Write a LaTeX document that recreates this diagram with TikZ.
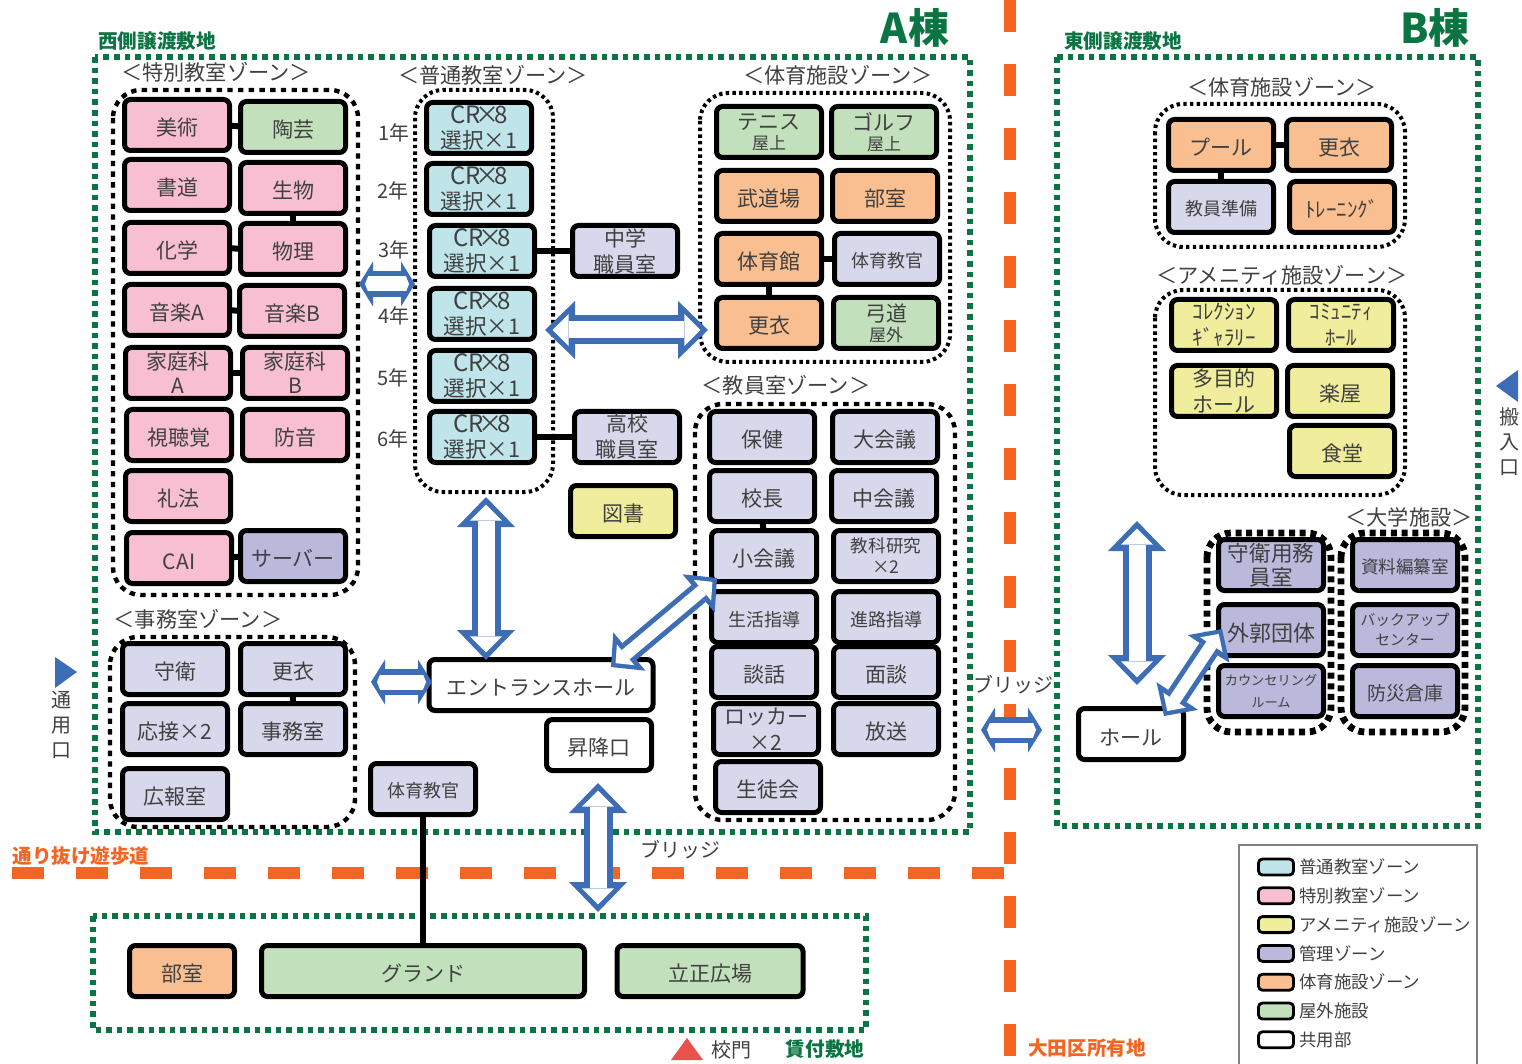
\documentclass[tikz,border=0pt]{standalone}
\usepackage{fontspec}
\setmainfont{Noto Sans CJK JP}
\usepackage{tikz}
\usetikzlibrary{arrows.meta,positioning}
\definecolor{cpink}{HTML}{F8BFD3}
\definecolor{cgreen}{HTML}{C2E0BC}
\definecolor{corange}{HTML}{FABF90}
\definecolor{cblue}{HTML}{BFE5EA}
\definecolor{cyellow}{HTML}{F0EE9C}
\definecolor{cdark}{HTML}{BAB9DC}
\definecolor{clight}{HTML}{D8D8EC}
\definecolor{cink}{HTML}{404040}
\definecolor{cwood}{HTML}{0A7442}
\definecolor{croad}{HTML}{F26522}
\definecolor{cbridge}{HTML}{3D6DB5}
\definecolor{cgate}{HTML}{E8524A}
\newcommand{\crtext}{{\fontsize{12}{13.5}\selectfont CR\kern-.22em×\kern-.22em 8}\\[-.5pt]{\fontsize{10.8}{13.5}\selectfont 選択×1}}
\tikzset{
    room/.style = {draw=black, line width=2.5pt, rounded corners=3pt, inner sep=0pt, minimum width=105 * .5pt, minimum height=25.5pt, align=center, text=cink, font=\fontsize{10.5}{13}\selectfont, execute at begin node={\rule{0pt}{1.08em}}},
    pink/.style = {room, fill=cpink},
    grass/.style = {room, fill=cgreen},
    sport/.style = {room, fill=corange},
    cr/.style = {room, fill=cblue},
    amen/.style = {room, fill=cyellow},
    admin/.style = {room, fill=clight},
    univ/.style = {room, fill=cdark},
    open/.style = {room, fill=white},
    link/.style = {draw=black, line width=3pt},
    zonefine/.style = {draw=black, line width=2pt, dash pattern=on 1.7pt off 1.65pt, rounded corners=14pt},
    zonecoarse/.style = {draw=black, line width=2.2pt, dash pattern=on 2.7pt off 2.65pt, rounded corners=14pt},
    zonethick/.style = {draw=black, line width=3.4pt, dash pattern=on 3pt off 2.35pt, rounded corners=12pt},
    site/.style = {draw=cwood, line width=3pt, dash pattern=on 2.8pt off 2.5pt},
    road/.style = {draw=croad, line width=6pt, dash pattern=on 16pt off 16pt},
    title/.style = {text=cink, inner sep=0pt, font=\fontsize{10.6}{13}\selectfont},
    small/.style = {text=cink, inner sep=0pt, align=center, font=\fontsize{10}{12.5}\selectfont},
    sitename/.style = {text=cwood, inner sep=0pt, font=\fontsize{9.8}{12}\selectfont\bfseries},
    roadname/.style = {text=croad, inner sep=0pt, font=\fontsize{9.8}{12}\selectfont\bfseries},
    block/.style = {text=cwood, inner sep=0pt, font=\fontsize{20.5}{24}\selectfont\bfseries},
    swatch/.style = {draw=black, line width=1.4pt, rounded corners=2pt, minimum width=17.5pt, minimum height=8pt, inner sep=0pt},
    legendtext/.style = {text=cink, inner sep=0pt, font=\fontsize{8.7}{10}\selectfont},
    % double lined arrows
    bigbridge/.style = {line width=8.5pt, draw=white, shorten >=3.8pt, shorten <=3.8pt, {Triangle[length=8pt,width=16pt,line width=0pt]}-{Triangle[length=8pt,width=16pt,line width=0pt]},
        preaction={draw=cbridge, line width=14.5pt, shorten >=0pt, shorten <=0pt, {Triangle[length=15pt,width=29pt,line width=0pt]}-{Triangle[length=15pt,width=29pt,line width=0pt]}}},
    midbridge/.style = {line width=6pt, draw=white, shorten >=3pt, shorten <=3pt, {Triangle[length=6.5pt,width=13.5pt,line width=0pt]}-{Triangle[length=6.5pt,width=13.5pt,line width=0pt]},
        preaction={draw=cbridge, line width=11pt, shorten >=0pt, shorten <=0pt, {Triangle[length=12pt,width=25pt,line width=0pt]}-{Triangle[length=12pt,width=25pt,line width=0pt]}}},
    smallbridge/.style = {line width=7.5pt, draw=white, shorten >=3pt, shorten <=3pt, {Triangle[length=1.5pt,width=7.5pt,line width=0pt]}-{Triangle[length=1.5pt,width=7.5pt,line width=0pt]},
        preaction={draw=cbridge, line width=13pt, shorten >=0pt, shorten <=0pt, {Triangle[length=7pt,width=22.5pt,line width=0pt]}-{Triangle[length=7pt,width=22.5pt,line width=0pt]}}},
}
\begin{document}
\begin{tikzpicture}[x=.5pt, y=-.5pt]
        \useasboundingbox (0,0) rectangle (1522,1064);
        % sites and roads
        \draw[site] (95,57) rectangle (970,832);
        \draw[site] (1057,57) rectangle (1478,826);
        \draw[site] (93,916) rectangle (866,1030);
        \draw[road] (12,873) -- (1005,873);
        \draw[road] (1010,0) -- (1010,1056);
        \node[block] (blockA) at (915,28) {A棟};
        \node[block] (blockB) at (1435,28) {B棟};
        \node[sitename] (westsite) at (157,41) {西側譲渡敷地};
        \node[sitename] (eastsite) at (1123,41) {東側譲渡敷地};
        \node[sitename] (rentsite) at (825,1049) {賃付敷地};
        \node[roadname] (walkway) at (81,856) {通り抜け遊歩道};
        \node[roadname] (otaku) at (1087,1048) {大田区所有地};
        % zones
        \draw[zonecoarse] (113,90) rectangle (358,595);
        \draw[zonefine] (415,90) rectangle (553,492);
        \draw[zonefine] (700,93) rectangle (950,362);
        \draw[zonecoarse] (695,404) rectangle (955,820);
        \draw[zonecoarse] (110,637) rectangle (355,827);
        \draw[zonefine] (1155,104) rectangle (1405,247);
        \draw[zonefine] (1155,290) rectangle (1405,495);
        \draw[zonethick] (1207,533) rectangle (1331,732);
        \draw[zonethick] (1341,533) rectangle (1465,732);
        \node[title] (t1) at (216,72) {＜特別教室ゾーン＞};
        \node[title] (t2) at (493,75) {＜普通教室ゾーン＞};
        \node[title] (t3) at (838,75) {＜体育施設ゾーン＞};
        \node[title] (t4) at (786,385) {＜教員室ゾーン＞};
        \node[title] (t5) at (198,619) {＜事務室ゾーン＞};
        \node[title] (t6) at (1282,87) {＜体育施設ゾーン＞};
        \node[title] (t7) at (1282,275) {＜アメニティ施設ゾーン＞};
        \node[title] (t8) at (1409,517) {＜大学施設＞};
        % special classrooms
        \node[pink] (bijutsu) at (177,125) {美術};
        \node[grass] (tougei) [right of=bijutsu, node distance=58pt, yshift=-1pt] {陶芸};
        \node[pink] (shodo) [below of=bijutsu, node distance=30pt] {書道};
        \node[pink] (seibutsu) [right of=shodo, node distance=58pt, yshift=-1.5pt] {生物};
        \node[pink] (kagaku) [below of=shodo, node distance=31.5pt] {化学};
        \node[pink] (butsuri) [right of=kagaku, node distance=58pt, yshift=-.5pt] {物理};
        \node[pink] (onkyoA) [below of=kagaku, node distance=31pt] {音楽A};
        \node[pink] (onkyoB) [right of=onkyoA, node distance=57.5pt, yshift=-.5pt] {音楽B};
        \node[pink] (kateiA) [below of=onkyoA, node distance=31.5pt, xshift=.5pt] {家庭科\\[-1pt]A};
        \node[pink] (kateiB) [right of=kateiA, node distance=58.5pt] {家庭科\\[-1pt]B};
        \node[pink] (shichou) [below of=kateiA, node distance=31pt, xshift=.5pt] {視聴覚};
        \node[pink] (bouon) [right of=shichou, node distance=58pt] {防音};
        \node[pink] (reihou) [below of=shichou, node distance=30.5pt, xshift=-.5pt] {礼法};
        \node[pink] (cai) [below of=reihou, node distance=31pt, xshift=.5pt] {CAI};
        \node[univ] (server) [right of=cai, node distance=57pt, yshift=1pt] {サーバー};
        \draw[link] (bijutsu) -- (tougei);
        \draw[link] (seibutsu) -- (butsuri);
        \draw[link] (kagaku) -- (butsuri);
        \draw[link] (onkyoA) -- (onkyoB);
        \draw[link] (kateiA) -- (kateiB);
        \draw[link] (cai) -- (server);
        % grades
        \node[small] (y1) at (394,133) {1年};
        \node[small] (y2) at (393,191) {2年};
        \node[small] (y3) at (394,250) {3年};
        \node[small] (y4) at (394,316) {4年};
        \node[small] (y5) at (393,378) {5年};
        \node[small] (y6) at (393,439) {6年};
        \node[cr] (cr1) at (479,128) {\crtext};
        \node[cr] (cr2) [below of=cr1, node distance=30.5pt] {\crtext};
        \node[cr] (cr3) [below of=cr2, node distance=31pt, xshift=1.5pt] {\crtext};
        \node[cr] (cr4) [below of=cr3, node distance=31.5pt] {\crtext};
        \node[cr] (cr5) [below of=cr4, node distance=31pt] {\crtext};
        \node[cr] (cr6) [below of=cr5, node distance=30.5pt] {\crtext};
        \node[admin] (chugaku) [right of=cr3, node distance=71.5pt] {中学\\職員室};
        \node[admin] (koukou) [right of=cr6, node distance=72.5pt] {高校\\職員室};
        \node[amen] (tosho) [below of=koukou, node distance=37pt, xshift=-2pt] {図書};
        \draw[link] (cr3) -- (chugaku);
        \draw[link] (cr6) -- (koukou);
        % sports, west
        \node[grass] (tennis) at (769,132) {テニス\\[-3pt]{\fontsize{8.5}{10}\selectfont 屋上}};
        \node[grass] (golf) [right of=tennis, node distance=57.5pt] {ゴルフ\\[-3pt]{\fontsize{8.5}{10}\selectfont 屋上}};
        \node[sport] (budo) [below of=tennis, node distance=32pt] {武道場};
        \node[sport] (bushitsu) [right of=budo, node distance=58pt] {部室};
        \node[sport] (taiikukan) [below of=budo, node distance=31.5pt] {体育館};
        \node[admin, font=\fontsize{9}{11}\selectfont] (kyokanA) [right of=taiikukan, node distance=59pt] {体育教官};
        \node[sport] (kouiA) [below of=taiikukan, node distance=32pt] {更衣};
        \node[grass] (kyudo) [right of=kouiA, node distance=58.5pt] {弓道\\[-3pt]{\fontsize{8.5}{10}\selectfont 屋外}};
        \draw[link] (taiikukan) -- (kyokanA);
        \draw[link] (taiikukan) -- (kouiA);
        % teachers
        \node[admin] (hoken) at (762,437) {保健};
        \node[admin] (daikaigi) [right of=hoken, node distance=61.5pt] {大会議};
        \node[admin] (kocho) [below of=hoken, node distance=29.5pt] {校長};
        \node[admin] (chukaigi) [right of=kocho, node distance=61pt] {中会議};
        \node[admin] (shokaigi) [below of=kocho, node distance=30pt, xshift=1pt] {小会議};
        \node[admin, font=\fontsize{8.8}{10.5}\selectfont] (kyoka) [right of=shokaigi, node distance=61pt] {教科研究\\×2};
        \node[admin, font=\fontsize{9}{11}\selectfont] (seikatsu) [below of=shokaigi, node distance=30.5pt] {生活指導};
        \node[admin, font=\fontsize{9}{11}\selectfont] (shinro) [right of=seikatsu, node distance=61pt] {進路指導};
        \node[admin] (danwa) [below of=seikatsu, node distance=27.5pt] {談話};
        \node[admin] (mendan) [right of=danwa, node distance=61pt] {面談};
        \node[admin] (locker) [below of=danwa, node distance=28.5pt, xshift=1pt] {ロッカー\\×2};
        \node[admin] (housou) [right of=locker, node distance=60pt] {放送};
        \node[admin] (seitokai) [below of=locker, node distance=29pt, xshift=1pt] {生徒会};
        \draw[link] (kocho) -- (shokaigi);
        % office
        \node[admin] (shuei) at (175,669) {守衛};
        \node[admin] (kouiB) [right of=shuei, node distance=59pt] {更衣};
        \node[admin] (ousetsu) [below of=shuei, node distance=30pt] {応接×2};
        \node[admin] (jimu) [right of=ousetsu, node distance=59pt] {事務室};
        \node[admin] (kouhou) [below of=ousetsu, node distance=32.5pt] {広報室};
        \draw[link] (kouiB) -- (jimu);
        \node[open, minimum width=224 * .5pt] (entrance) at (541,685) {エントランスホール};
        \node[open] (shokou) [below of=entrance, node distance=30pt, xshift=29pt] {昇降口};
        \node[admin, font=\fontsize{9}{11}\selectfont] (kyokanB) at (423,789) {体育教官};
        % outdoors
        \node[sport] (bukatsu) at (182,971) {部室};
        \node[grass, minimum width=323 * .5pt] (ground) at (423,971) {グランド};
        \node[grass, minimum width=186 * .5pt] (hiroba) at (710,971) {立正広場};
        \draw[link] (kyokanB) -- (ground);
        % sports, east
        \node[sport] (pool) at (1221,145) {プール};
        \node[sport] (kouiC) [right of=pool, node distance=59pt] {更衣};
        \node[admin, font=\fontsize{9}{11}\selectfont] (junbi) [below of=pool, node distance=31pt] {教員準備};
        \node[sport] (training) [right of=junbi, node distance=60.5pt] {ﾄﾚｰﾆﾝｸﾞ};
        \draw[link] (pool) -- (kouiC);
        \draw[link] (pool) -- (junbi);
        % amenity
        \node[amen] (collection) at (1224,325) {ｺﾚｸｼｮﾝ\\ｷﾞｬﾗﾘｰ};
        \node[amen] (community) [right of=collection, node distance=58.5pt] {ｺﾐｭﾆﾃｨ\\ﾎｰﾙ};
        \node[amen] (tamokuteki) [below of=collection, node distance=33pt] {多目的\\ホール};
        \node[amen] (gakuya) [right of=tamokuteki, node distance=58pt] {楽屋};
        \node[amen] (shokudo) [below of=gakuya, node distance=30pt, xshift=1pt] {食堂};
        % university
        \node[univ, font=\fontsize{10.8}{12}\selectfont] (youmu) at (1271,565) {守衛用務\\員室};
        \node[univ, font=\fontsize{11}{13}\selectfont] (gaikaku) [below of=youmu, node distance=32.5pt] {外郭団体};
        \node[univ, font=\fontsize{6.6}{11}\selectfont] (counsel) [below of=gaikaku, node distance=30.5pt] {カウンセリング\\ルーム};
        \node[univ, font=\fontsize{8.8}{11}\selectfont] (shiryou) [right of=youmu, node distance=67pt] {資料編纂室};
        \node[univ, font=\fontsize{7.4}{10}\selectfont] (backup) [right of=gaikaku, node distance=67pt] {バックアップ\\センター};
        \node[univ, font=\fontsize{9.5}{11}\selectfont] (bousai) [right of=counsel, node distance=67pt] {防災倉庫};
        \node[open] (hall) at (1131,734) {ホール};
        % bridges
        \coordinate (c1) at (359,284);
        \coordinate (c2) at (415,284);
        \coordinate (d1) at (371,682);
        \coordinate (d2) at (432,682);
        \coordinate (e1) at (981,730);
        \coordinate (e2) at (1042,730);
        \coordinate (f1) at (545,330);
        \coordinate (f2) at (708,330);
        \coordinate (g1) at (486,497);
        \coordinate (g2) at (486,660);
        \coordinate (h1) at (598,783);
        \coordinate (h2) at (598,912);
        \coordinate (i1) at (1137,521);
        \coordinate (i2) at (1137,685);
        \coordinate (j1) at (611,667);
        \coordinate (j2) at (717,578);
        \coordinate (k1) at (1164,716);
        \coordinate (k2) at (1222,629);
        \draw[smallbridge] (c1) -- (c2);
        \draw[smallbridge] (d1) -- (d2);
        \draw[smallbridge] (e1) -- (e2);
        \draw[bigbridge] (f1) -- (f2);
        \draw[bigbridge] (g1) -- (g2);
        \draw[bigbridge] (h1) -- (h2);
        \draw[bigbridge] (i1) -- (i2);
        \draw[midbridge] (j1) -- (j2);
        \draw[midbridge] (k1) -- (k2);
        \node[small] (br1) at (1013,685) {ブリッジ};
        \node[small] (br2) at (680,850) {ブリッジ};
        % gates
        \fill[cbridge] (55,657) -- (77,672) -- (55,688) -- cycle;
        \node[small] (tsuyo) at (61,725) {通\\用\\口};
        \fill[cbridge] (1518,370) -- (1496,386) -- (1518,402) -- cycle;
        \node[small] (hannyu) at (1509,442) {搬\\入\\口};
        \fill[cgate] (687,1038) -- (703,1060) -- (671,1060) -- cycle;
        \node[small] (koumon) at (731,1050) {校門};
        % legend
        \draw[draw=gray, line width=.6pt] (1239,1075) -- (1239,845) -- (1477,845) -- (1477,1075);
        \node[swatch, fill=cblue] (lg1) at (1276,867) {};
        \node[swatch, fill=cpink] (lg2) [below of=lg1, node distance=14.4pt] {};
        \node[swatch, fill=cyellow] (lg3) [below of=lg2, node distance=14.4pt] {};
        \node[swatch, fill=cdark] (lg4) [below of=lg3, node distance=14.4pt] {};
        \node[swatch, fill=corange] (lg5) [below of=lg4, node distance=14.4pt] {};
        \node[swatch, fill=cgreen] (lg6) [below of=lg5, node distance=14.4pt] {};
        \node[swatch, fill=white] (lg7) [below of=lg6, node distance=14.4pt] {};
        \node[legendtext] (lt1) [right=2pt of lg1] {普通教室ゾーン};
        \node[legendtext] (lt2) [right=2pt of lg2] {特別教室ゾーン};
        \node[legendtext] (lt3) [right=2pt of lg3] {アメニティ施設ゾーン};
        \node[legendtext] (lt4) [right=2pt of lg4] {管理ゾーン};
        \node[legendtext] (lt5) [right=2pt of lg5] {体育施設ゾーン};
        \node[legendtext] (lt6) [right=2pt of lg6] {屋外施設};
        \node[legendtext] (lt7) [right=2pt of lg7] {共用部};
\end{tikzpicture}
\end{document}
